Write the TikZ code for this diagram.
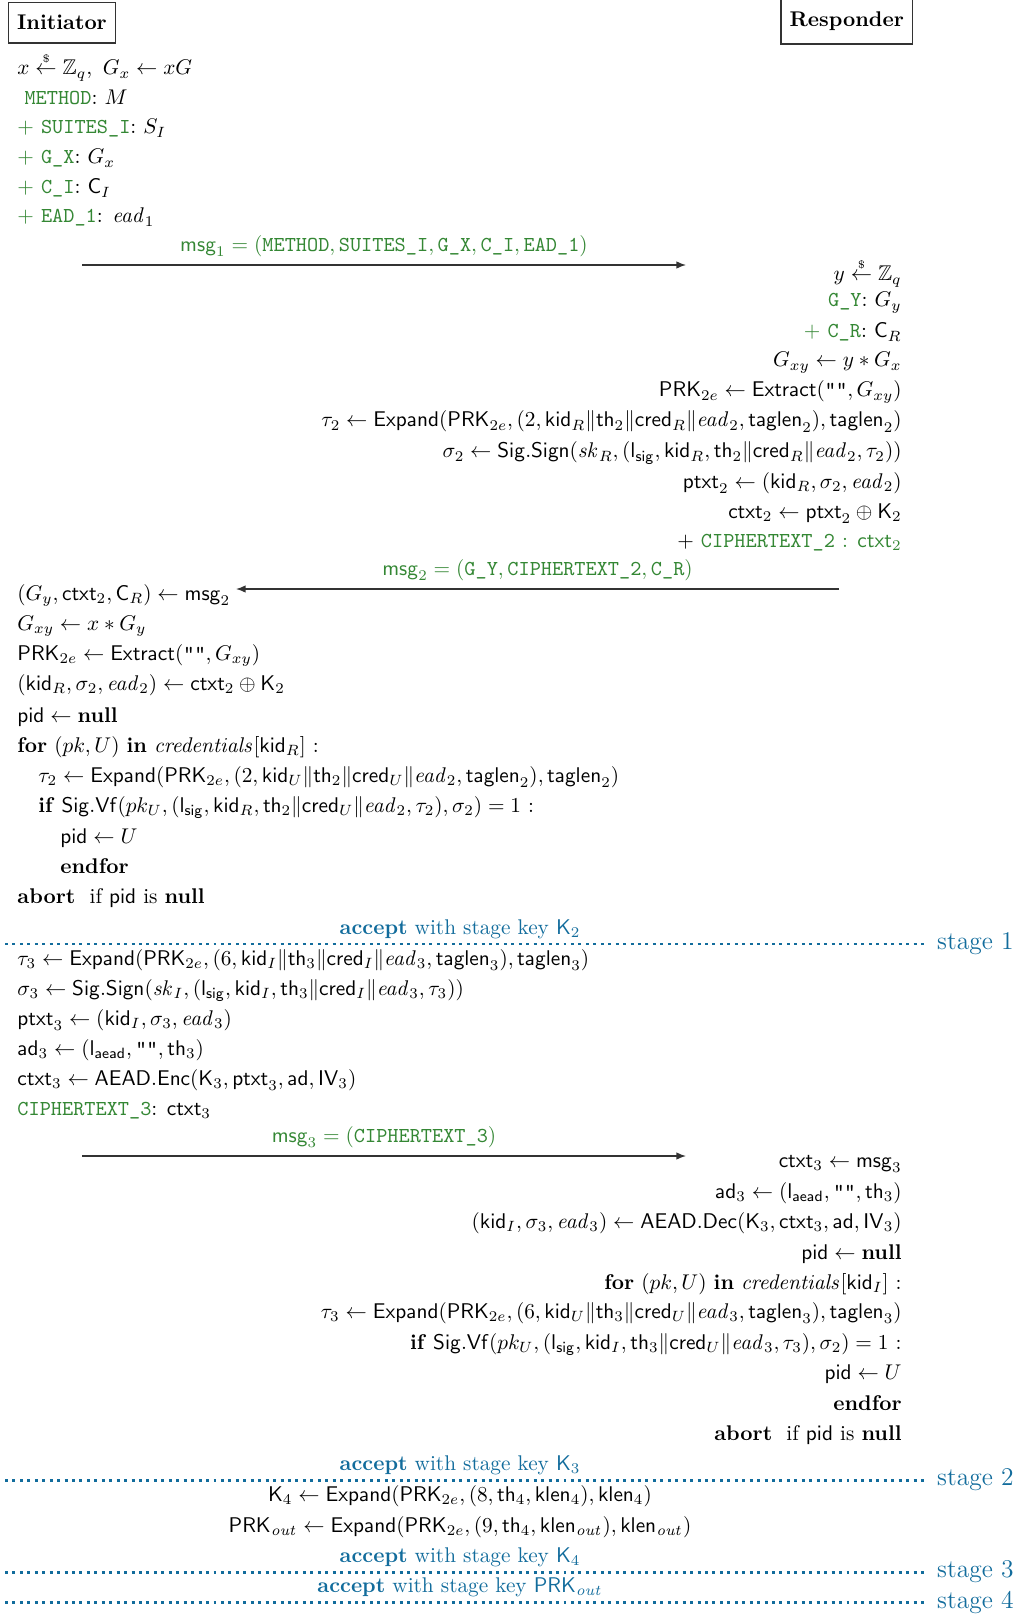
\documentclass[tikz,border=0pt]{standalone}
\usepackage{amsmath,amssymb}
\usetikzlibrary{arrows.meta}

\definecolor{msggreen}{RGB}{52,135,52}
\definecolor{stageblue}{RGB}{18,108,156}

\newcommand{\fld}[1]{\textcolor{msggreen}{\texttt{#1}}}
\newcommand{\randgets}{\stackrel{\scriptscriptstyle\$}{\leftarrow}}
\newcommand{\kw}[1]{\textbf{#1}}
\newcommand{\lp}{\mathopen{}\left(}
\newcommand{\rp}{\right)}

\tikzset{
    party/.style={draw=black!80, line width=0.6pt, inner xsep=4pt, inner ysep=6pt, font=\bfseries},
    ini/.style={anchor=base west, inner sep=0pt},
    res/.style={anchor=base east, inner sep=0pt},
    mid/.style={anchor=base, inner sep=0pt}
}
\tikzset{
    msgarrow/.style={-{Latex[length=4.5pt,width=3.5pt]}, line width=0.6pt, black!80},
    msglabel/.style={above, inner sep=3.5pt, text=msggreen},
    stageline/.style={stageblue, line width=1.4pt, dash pattern=on 1.4pt off 2.1pt},
    stagelabel/.style={right, inner sep=5.5pt, text=stageblue, font=\large},
    acceptlabel/.style={anchor=base, inner sep=0pt, text=stageblue}
}

\begin{document}
\begin{tikzpicture}[x=0.47pt, y=-0.47pt]
    \useasboundingbox (0,0) rectangle (1023,1616);

    \node (init) [party, anchor=base west] at (8, 30) {Initiator};
    \node (resp) [party, anchor=base east] at (913, 27) {Responder};

    % initiator: message 1
    \node (i1) [ini] at (17, 75) {$x \randgets \mathbb{Z}_q,\ G_x \leftarrow xG$};
    \node (i2) [ini] at (17, 105) {\ \fld{METHOD}: $M$};
    \node (i3) [ini] at (17, 134) {\textcolor{msggreen}{+} \fld{SUITES\_I}: $S_I$};
    \node (i4) [ini] at (17, 164) {\textcolor{msggreen}{+} \fld{G\_X}: $G_x$};
    \node (i5) [ini] at (17, 194) {\textcolor{msggreen}{+} \fld{C\_I}: $\mathsf{C}_I$};
    \node (i6) [ini] at (17, 223) {\textcolor{msggreen}{+} \fld{EAD\_1}: $\mathit{ead}_1$};

    \coordinate (m1a) at (82, 265);
    \coordinate (m1b) at (686, 265);
    \draw[msgarrow] (m1a) -- node (msg1) [msglabel] {$\mathsf{msg}_1 = (\texttt{METHOD}, \texttt{SUITES\_I}, \texttt{G\_X}, \texttt{C\_I}, \texttt{EAD\_1})$} (m1b);

    % responder: message 2
    \node (r1) [res] at (902, 281) {$y \randgets \mathbb{Z}_q$};
    \node (r2) [res] at (902, 307) {\fld{G\_Y}: $G_y$};
    \node (r3) [res] at (902, 338) {\textcolor{msggreen}{+} \fld{C\_R}: $\mathsf{C}_R$};
    \node (r4) [res] at (902, 367) {$G_{xy} \leftarrow y * G_x$};
    \node (r5) [res] at (902, 397) {$\mathsf{PRK}_{2e} \leftarrow \mathsf{Extract}\lp\texttt{""}, G_{xy}\rp$};
    \node (r6) [res] at (902, 427) {$\tau_2 \leftarrow \mathsf{Expand}\lp\mathsf{PRK}_{2e}, (2, \mathsf{kid}_R \| \mathsf{th}_2 \| \mathsf{cred}_R \| \mathit{ead}_2, \mathsf{taglen}_2), \mathsf{taglen}_2\rp$};
    \node (r7) [res] at (902, 458) {$\sigma_2 \leftarrow \mathsf{Sig.Sign}\lp\mathit{sk}_R, (\mathsf{l}_{\mathsf{sig}}, \mathsf{kid}_R, \mathsf{th}_2 \| \mathsf{cred}_R \| \mathit{ead}_2, \tau_2)\rp$};
    \node (r8) [res] at (902, 488) {$\mathsf{ptxt}_2 \leftarrow \left(\mathsf{kid}_R, \sigma_2, \mathit{ead}_2\right)$};
    \node (r9) [res] at (902, 518) {$\mathsf{ctxt}_2 \leftarrow \mathsf{ptxt}_2 \oplus \mathsf{K}_2$};
    \node (r10) [res] at (902, 547) {+ \textcolor{msggreen}{\texttt{CIPHERTEXT\_2} : $\mathsf{ctxt}_2$}};

    \coordinate (m2a) at (839, 589);
    \coordinate (m2b) at (236, 589);
    \draw[msgarrow] (m2a) -- node (msg2) [msglabel] {$\mathsf{msg}_2 = (\texttt{G\_Y}, \texttt{CIPHERTEXT\_2}, \texttt{C\_R})$} (m2b);

    % initiator: check responder
    \node (i7) [ini] at (17, 600) {$\left(G_y, \mathsf{ctxt}_2, \mathsf{C}_R\right) \leftarrow \mathsf{msg}_2$};
    \node (i8) [ini] at (17, 630) {$G_{xy} \leftarrow x * G_y$};
    \node (i9) [ini] at (17, 660) {$\mathsf{PRK}_{2e} \leftarrow \mathsf{Extract}\lp\texttt{""}, G_{xy}\rp$};
    \node (i10) [ini] at (17, 690) {$\left(\mathsf{kid}_R, \sigma_2, \mathit{ead}_2\right) \leftarrow \mathsf{ctxt}_2 \oplus \mathsf{K}_2$};
    \node (i11) [ini] at (17, 722) {$\mathsf{pid} \leftarrow \kw{null}$};
    \node (i12) [ini] at (17, 752) {\kw{for} $(pk, U)$ \kw{in} $\mathit{credentials}[\mathsf{kid}_R]$ :};
    \node (i13) [ini] at (38, 782) {$\tau_2 \leftarrow \mathsf{Expand}\lp\mathsf{PRK}_{2e}, (2, \mathsf{kid}_U \| \mathsf{th}_2 \| \mathsf{cred}_U \| \mathit{ead}_2, \mathsf{taglen}_2), \mathsf{taglen}_2\rp$};
    \node (i14) [ini] at (38, 812) {\kw{if} $\mathsf{Sig.Vf}\lp pk_U, (\mathsf{l}_{\mathsf{sig}}, \mathsf{kid}_R, \mathsf{th}_2 \| \mathsf{cred}_U \| \mathit{ead}_2, \tau_2), \sigma_2\rp = 1$ :};
    \node (i15) [ini] at (60, 843) {$\mathsf{pid} \leftarrow U$};
    \node (i16) [ini] at (60, 873) {\kw{endfor}};
    \node (i17) [ini] at (17, 903) {\kw{abort}\ \ if $\mathsf{pid}$ is \kw{null}};

    \node (acc1) [acceptlabel] at (460, 934) {\kw{accept} with stage key $\mathsf{K}_2$};
    \coordinate (s1a) at (5, 944);
    \coordinate (s1b) at (924, 944);
    \draw[stageline] (s1a) -- (s1b) node (st1) [stagelabel] {stage 1};

    % initiator: message 3
    \node (i18) [ini] at (17, 965) {$\tau_3 \leftarrow \mathsf{Expand}\lp\mathsf{PRK}_{2e}, (6, \mathsf{kid}_I \| \mathsf{th}_3 \| \mathsf{cred}_I \| \mathit{ead}_3, \mathsf{taglen}_3), \mathsf{taglen}_3\rp$};
    \node (i19) [ini] at (17, 995) {$\sigma_3 \leftarrow \mathsf{Sig.Sign}\lp\mathit{sk}_I, (\mathsf{l}_{\mathsf{sig}}, \mathsf{kid}_I, \mathsf{th}_3 \| \mathsf{cred}_I \| \mathit{ead}_3, \tau_3)\rp$};
    \node (i20) [ini] at (17, 1025) {$\mathsf{ptxt}_3 \leftarrow \left(\mathsf{kid}_I, \sigma_3, \mathit{ead}_3\right)$};
    \node (i21) [ini] at (17, 1055) {$\mathsf{ad}_3 \leftarrow \left(\mathsf{l}_{\mathsf{aead}}, \texttt{""}, \mathsf{th}_3\right)$};
    \node (i22) [ini] at (17, 1085) {$\mathsf{ctxt}_3 \leftarrow \mathsf{AEAD.Enc}\lp\mathsf{K}_3, \mathsf{ptxt}_3, \mathsf{ad}, \mathsf{IV}_3\rp$};
    \node (i23) [ini] at (17, 1115) {\fld{CIPHERTEXT\_3}: $\mathsf{ctxt}_3$};

    \coordinate (m3a) at (82, 1156);
    \coordinate (m3b) at (686, 1156);
    \draw[msgarrow] (m3a) -- node (msg3) [msglabel] {$\mathsf{msg}_3 = (\texttt{CIPHERTEXT\_3})$} (m3b);

    % responder: check initiator
    \node (r11) [res] at (902, 1167) {$\mathsf{ctxt}_3 \leftarrow \mathsf{msg}_3$};
    \node (r12) [res] at (902, 1198) {$\mathsf{ad}_3 \leftarrow \left(\mathsf{l}_{\mathsf{aead}}, \texttt{""}, \mathsf{th}_3\right)$};
    \node (r13) [res] at (902, 1228) {$\left(\mathsf{kid}_I, \sigma_3, \mathit{ead}_3\right) \leftarrow \mathsf{AEAD.Dec}\lp\mathsf{K}_3, \mathsf{ctxt}_3, \mathsf{ad}, \mathsf{IV}_3\rp$};
    \node (r14) [res] at (902, 1259) {$\mathsf{pid} \leftarrow \kw{null}$};
    \node (r15) [res] at (902, 1289) {\kw{for} $(pk, U)$ \kw{in} $\mathit{credentials}[\mathsf{kid}_I]$ :};
    \node (r16) [res] at (902, 1318) {$\tau_3 \leftarrow \mathsf{Expand}\lp\mathsf{PRK}_{2e}, (6, \mathsf{kid}_U \| \mathsf{th}_3 \| \mathsf{cred}_U \| \mathit{ead}_3, \mathsf{taglen}_3), \mathsf{taglen}_3\rp$};
    \node (r17) [res] at (902, 1349) {\kw{if} $\mathsf{Sig.Vf}\lp pk_U, (\mathsf{l}_{\mathsf{sig}}, \mathsf{kid}_I, \mathsf{th}_3 \| \mathsf{cred}_U \| \mathit{ead}_3, \tau_3), \sigma_2\rp = 1$ :};
    \node (r18) [res] at (902, 1379) {$\mathsf{pid} \leftarrow U$};
    \node (r19) [res] at (902, 1410) {\kw{endfor}~};
    \node (r20) [res] at (902, 1440) {\kw{abort}\ \ if $\mathsf{pid}$ is \kw{null}};

    \node (acc2) [acceptlabel] at (460, 1470) {\kw{accept} with stage key $\mathsf{K}_3$};
    \coordinate (s2a) at (5, 1480);
    \coordinate (s2b) at (924, 1480);
    \draw[stageline] (s2a) -- (s2b) node (st2) [stagelabel] {stage 2};

    % key schedule
    \node (k1) [mid] at (460, 1501) {$\mathsf{K}_4 \leftarrow \mathsf{Expand}\lp\mathsf{PRK}_{2e}, (8, \mathsf{th}_4, \mathsf{klen}_4), \mathsf{klen}_4\rp$};
    \node (k2) [mid] at (460, 1532) {$\mathsf{PRK}_{\mathit{out}} \leftarrow \mathsf{Expand}\lp\mathsf{PRK}_{2e}, (9, \mathsf{th}_4, \mathsf{klen}_{\mathit{out}}), \mathsf{klen}_{\mathit{out}}\rp$};

    \node (acc3) [acceptlabel] at (460, 1562) {\kw{accept} with stage key $\mathsf{K}_4$};
    \coordinate (s3a) at (5, 1572);
    \coordinate (s3b) at (924, 1572);
    \draw[stageline] (s3a) -- (s3b) node (st3) [stagelabel] {stage 3};

    \node (acc4) [acceptlabel] at (460, 1592) {\kw{accept} with stage key $\mathsf{PRK}_{\mathit{out}}$};
    \coordinate (s4a) at (5, 1602);
    \coordinate (s4b) at (924, 1602);
    \draw[stageline] (s4a) -- (s4b) node (st4) [stagelabel] {stage 4};
\end{tikzpicture}
\end{document}
